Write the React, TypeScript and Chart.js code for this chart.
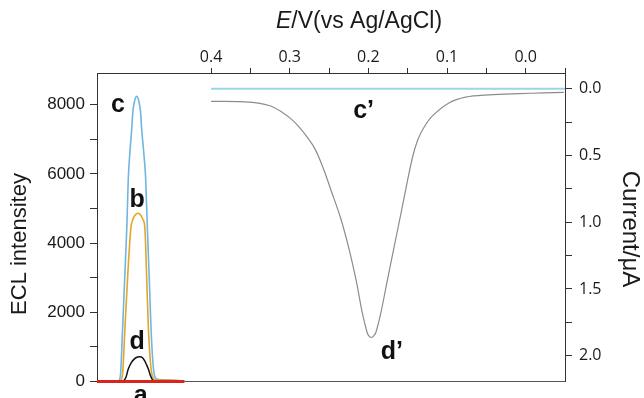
import React, { useEffect, useRef } from 'react';
import { Chart, registerables } from 'chart.js';

Chart.register(...registerables);

// ---- tick values ----
const potentialTicks = [0.4, 0.35, 0.3, 0.25, 0.2, 0.15, 0.1, 0.05, 0, -0.05];
const eclTicks = [0, 1000, 2000, 3000, 4000, 5000, 6000, 7000, 8000];
const currentTicks = [0, 0.25, 0.5, 0.75, 1.0, 1.25, 1.5, 1.75, 2.0];

// ---- ECL curves (time axis hidden) ----
const aTime = [0, 11.2];
const aECL = [0, 0];

const bTime = [2.95, 3.08, 3.29, 3.59, 3.95, 4.34, 4.6, 4.86, 5.24, 5.62, 5.88, 6.14, 6.36, 6.58, 6.8, 7.01, 7.44, 8.5, 10, 11.2];
const bECL = [0, 48, 237, 1571, 3100, 4429, 4680, 4800, 4860, 4800, 4680, 4429, 3050, 1571, 700, 237, 48, 38, 25, 10];

const cTime = [2.7, 2.86, 3.03, 3.29, 3.56, 3.83, 4.01, 4.23, 4.45, 4.59, 4.77, 5.09, 5.41, 5.59, 5.73, 6.0, 6.24, 6.45, 6.69, 6.92, 7.12, 7.31, 7.65, 8.5, 10, 11.2];
const cECL = [0, 40, 237, 1571, 3030, 4486, 5857, 6650, 7286, 7770, 8055, 8237, 8055, 7770, 7286, 6600, 5857, 4486, 3030, 1571, 700, 237, 70, 45, 30, 12];

const dTime = [3.37, 3.7, 4.01, 4.4, 4.8, 5.2, 5.51, 5.8, 6.1, 6.35, 6.58, 6.85, 7.1, 7.44];
const dECL = [0, 110, 357, 540, 650, 705, 714, 690, 600, 480, 357, 170, 50, 0];

// ---- CV curves ----
const cPrimePotential = [0.4, -0.05];
const cPrimeCurrent = [0, 0];

const dPrimePotential = [0.4, 0.3517, 0.3263, 0.3098, 0.2983, 0.2882, 0.278, 0.2679, 0.2577, 0.2475, 0.2352, 0.2246, 0.2154, 0.2077, 0.2014, 0.1989, 0.1963, 0.1938, 0.1907, 0.1844, 0.176, 0.1675, 0.159, 0.1506, 0.1433, 0.137, 0.1294, 0.1188, 0.0976, 0.0764, 0.0468, 0.0086, -0.0231, -0.0485];
const dPrimeCurrent = [0.094, 0.1, 0.125, 0.175, 0.225, 0.285, 0.36, 0.45, 0.59, 0.76, 0.97, 1.2, 1.44, 1.68, 1.83, 1.855, 1.864, 1.855, 1.83, 1.687, 1.439, 1.193, 0.946, 0.699, 0.5, 0.38, 0.29, 0.205, 0.106, 0.062, 0.045, 0.036, 0.031, 0.027];

// ---- curve labels (data coordinates) ----
const eclLabels = [
  { text: 'c', t: 2.7, v: 8000 },
  { text: 'b', t: 5.13, v: 5250 },
  { text: 'd', t: 5.13, v: 1150 },
  { text: 'a', t: 5.6, v: -420 },
];
const cvLabels = [
  { text: 'c\u2019', e: 0.206, i: 0.17 },
  { text: 'd\u2019', e: 0.17, i: 1.97 },
];

const toPts = (xs: number[], ys: number[]) => xs.map((x, k) => ({ x, y: ys[k] }));

const AXIS = '#333333';
const TXT = '#1a1a1a';

const textPlugin = {
  id: 'texts',
  afterDraw(chart: any) {
    const { ctx, chartArea, scales } = chart;
    ctx.save();
    ctx.fillStyle = '#111';
    ctx.textAlign = 'center';
    ctx.textBaseline = 'middle';
    ctx.font = 'bold 25px "Liberation Sans", Arial, sans-serif';
    eclLabels.forEach((l) => {
      ctx.fillText(l.text, scales.xt.getPixelForValue(l.t), scales.y.getPixelForValue(l.v));
    });
    cvLabels.forEach((l) => {
      ctx.fillText(l.text, scales.x.getPixelForValue(l.e), scales.y2.getPixelForValue(l.i));
    });

    // axis titles
    ctx.fillStyle = TXT;
    ctx.font = '22px "Liberation Sans", Arial, sans-serif';
    ctx.save();
    ctx.translate(chartArea.left - 77, chartArea.top + 171);
    ctx.rotate(-Math.PI / 2);
    ctx.fillText('ECL intensitey', 0, 0);
    ctx.restore();

    ctx.font = '24px "Liberation Sans", Arial, sans-serif';
    ctx.save();
    ctx.translate(chartArea.right + 65, chartArea.top + 156);
    ctx.rotate(Math.PI / 2);
    ctx.fillText('Current/\u03bcA', 0, 0);
    ctx.restore();

    // top title with italic E
    const rest = '/V(vs Ag/AgCl)';
    ctx.font = 'italic 23px "Liberation Sans", Arial, sans-serif';
    const wE = ctx.measureText('E').width;
    ctx.font = '23px "Liberation Sans", Arial, sans-serif';
    const wR = ctx.measureText(rest).width;
    const cx = chartArea.left + 262;
    const x0 = cx - (wE + wR) / 2;
    const ty = chartArea.top - 51;
    ctx.textAlign = 'left';
    ctx.font = 'italic 23px "Liberation Sans", Arial, sans-serif';
    ctx.fillText('E', x0, ty);
    ctx.font = '23px "Liberation Sans", Arial, sans-serif';
    ctx.fillText(rest, x0 + wE, ty);
    ctx.restore();
  },
};

export default function App() {
  const ref = useRef<HTMLCanvasElement | null>(null);

  useEffect(() => {
    if (!ref.current) return;
    const line = (data: any[], color: string, width: number, xAxisID: string, yAxisID: string, smooth = 'monotone') => ({
      data,
      borderColor: color,
      backgroundColor: color,
      borderWidth: width,
      pointRadius: 0,
      fill: false,
      cubicInterpolationMode: smooth,
      tension: 0.35,
      xAxisID,
      yAxisID,
      clip: false,
    });

    const chart = new Chart(ref.current, {
      type: 'line',
      data: {
        datasets: [
          line(toPts(aTime, aECL), '#d8261e', 3, 'xt', 'y'),
          line(toPts(dTime, dECL), '#111111', 1.5, 'xt', 'y'),
          line(toPts(bTime, bECL), '#e2a62a', 1.6, 'xt', 'y'),
          line(toPts(cTime, cECL), '#6fb6e2', 1.6, 'xt', 'y'),
          line(toPts(cPrimePotential, cPrimeCurrent), '#9bd6e6', 2, 'x', 'y2'),
          line(toPts(dPrimePotential, dPrimeCurrent), '#8c8c8c', 1.2, 'x', 'y2', 'default'),
        ] as any,
      },
      options: {
        animation: false,
        responsive: true,
        maintainAspectRatio: false,
        layout: { padding: 0 },
        plugins: { legend: { display: false }, tooltip: { enabled: false } },
        scales: {
          x: {
            type: 'linear',
            position: 'top',
            reverse: true,
            min: -0.05,
            max: 0.545,
            afterBuildTicks: (s: any) => {
              s.ticks = potentialTicks.map((v) => ({ value: v }));
            },
            afterFit: (s: any) => {
              s.height = 73;
            },
            ticks: {
              autoSkip: false,
              maxRotation: 0,
              padding: 1,
              color: TXT,
              font: { family: '"Open Sans", sans-serif', size: 16 },
              callback: (v: any) => {
                const n = Number(v);
                return Math.abs(n * 10 - Math.round(n * 10)) < 1e-6 ? n.toFixed(1) : '';
              },
            },
            grid: { drawOnChartArea: false, drawTicks: true, tickLength: 5, tickColor: AXIS },
            border: { display: true, color: AXIS, width: 1 },
          },
          xt: {
            type: 'linear',
            position: 'bottom',
            min: 0,
            max: 60,
            afterFit: (s: any) => {
              s.height = 13;
            },
            ticks: { display: false },
            grid: { display: false, drawTicks: false },
            border: { display: true, color: '#555555', width: 1 },
          },
          y: {
            type: 'linear',
            position: 'left',
            min: 0,
            max: 8914,
            afterBuildTicks: (s: any) => {
              s.ticks = eclTicks.map((v) => ({ value: v }));
            },
            afterFit: (s: any) => {
              s.width = 97;
            },
            ticks: {
              autoSkip: false,
              padding: 5,
              color: TXT,
              font: { family: '"Liberation Sans", Arial, sans-serif', size: 17 },
              callback: (v: any) => (Number(v) % 2000 === 0 ? String(v) : ''),
            },
            grid: { drawOnChartArea: false, drawTicks: true, tickLength: 7, tickColor: AXIS },
            border: { display: true, color: AXIS, width: 1 },
          },
          y2: {
            type: 'linear',
            position: 'right',
            reverse: true,
            min: -0.1185,
            max: 2.193,
            afterBuildTicks: (s: any) => {
              s.ticks = currentTicks.map((v) => ({ value: v }));
            },
            afterFit: (s: any) => {
              s.width = 79;
            },
            ticks: {
              autoSkip: false,
              padding: 7,
              color: TXT,
              font: { family: '"Open Sans", sans-serif', size: 16 },
              callback: (v: any) => {
                const n = Number(v);
                return Math.abs(n * 2 - Math.round(n * 2)) < 1e-6 ? n.toFixed(1) : '';
              },
            },
            grid: { drawOnChartArea: false, drawTicks: true, tickLength: 7, tickColor: AXIS },
            border: { display: true, color: AXIS, width: 1 },
          },
        },
      } as any,
      plugins: [textPlugin],
    });
    return () => chart.destroy();
  }, []);

  return (
    <div style={{ position: 'fixed', left: 0, top: 0, width: 644, height: 398, background: '#fff' }}>
      <canvas ref={ref} />
    </div>
  );
}
